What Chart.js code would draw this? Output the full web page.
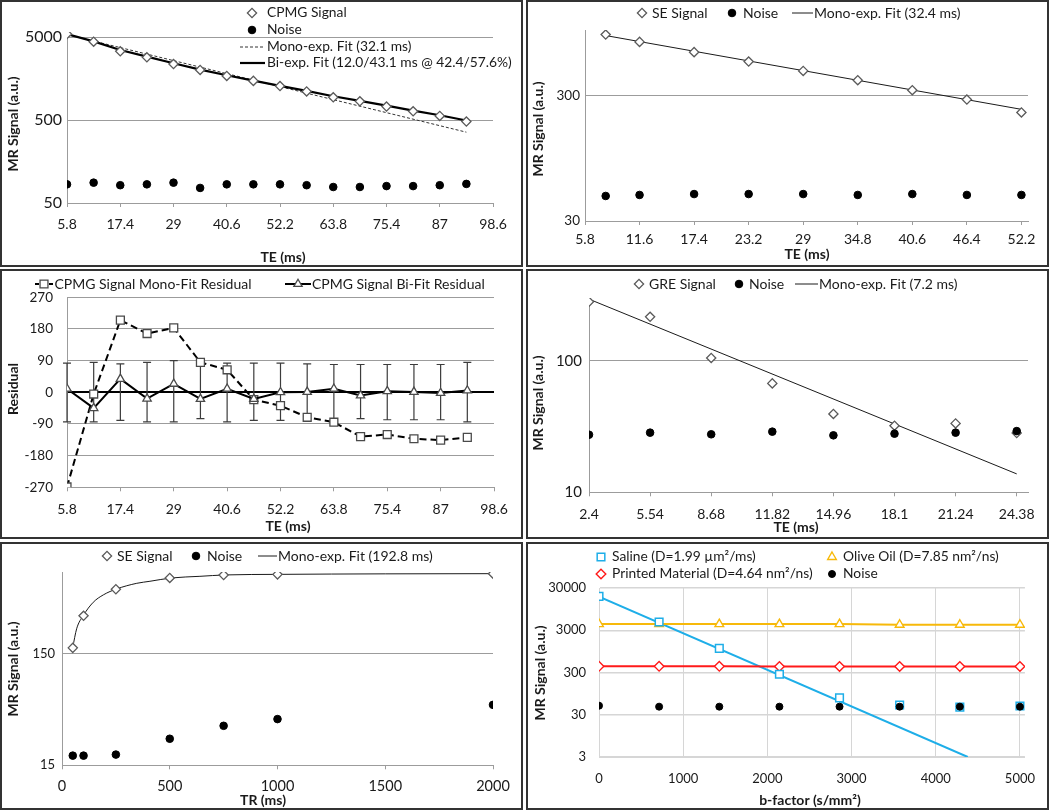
<!DOCTYPE html>
<html>
<head>
<meta charset="utf-8">
<script src="https://cdn.jsdelivr.net/npm/chart.js@4.4.1/dist/chart.umd.min.js"></script>
<style>
  html, body { margin: 0; padding: 0; background: #fff; }
  body { width: 1050px; height: 811px; position: relative; overflow: hidden; }
  .panel { position: absolute; }
  .panel canvas { position: absolute; left: 0; top: 0; }
  .panel .frame { position: absolute; left: 0; top: 0; right: 0; bottom: 0; border: 2px solid #333; box-sizing: border-box; pointer-events: none; }
</style>
</head>
<body>
<div class="panel" style="left:0;top:0;width:523px;height:267px"><canvas id="c1" width="523" height="267"></canvas><div class="frame"></div></div>
<div class="panel" style="left:526px;top:0;width:523px;height:267px"><canvas id="c2" width="523" height="267"></canvas><div class="frame"></div></div>
<div class="panel" style="left:0;top:269px;width:523px;height:270px"><canvas id="c3" width="523" height="270"></canvas><div class="frame"></div></div>
<div class="panel" style="left:526px;top:269px;width:523px;height:270px"><canvas id="c4" width="523" height="270"></canvas><div class="frame"></div></div>
<div class="panel" style="left:0;top:542px;width:523px;height:268px"><canvas id="c5" width="523" height="268"></canvas><div class="frame"></div></div>
<div class="panel" style="left:526px;top:542px;width:523px;height:268px"><canvas id="c6" width="523" height="268"></canvas><div class="frame"></div></div>
<script>
// ---- data ----
// (1) CPMG decay
const te1 = [5.8, 11.6, 17.4, 23.2, 29, 34.8, 40.6, 46.4, 52.2, 58, 63.8, 69.6, 75.4, 81.2, 87, 92.8];
const teTicks1 = [5.8, 17.4, 29, 40.6, 52.2, 63.8, 75.4, 87, 98.6];
const cpmgSignal = [5480, 4430, 3390, 2870, 2380, 2020, 1710, 1490, 1290, 1110, 945, 845, 730, 640, 563, 481];
const cpmgNoise = [84, 88, 82, 84, 88, 76, 84, 84, 84, 82, 78, 78, 80, 80, 82, 85];
const monoFitTe1 = [5.8, 92.8];
const monoFit1 = [5400, 358];
const biFit1 = [5480, 4475, 3520, 2925, 2430, 2040, 1742, 1502, 1297, 1130, 973, 855, 750, 652, 573, 495];
const yTicks1 = [50, 500, 5000];

// (2) SE decay
const te2 = [8, 11.6, 17.4, 23.2, 29, 34.8, 40.6, 46.4, 52.2];
const teTicks2 = [5.8, 11.6, 17.4, 23.2, 29, 34.8, 40.6, 46.4, 52.2];
const seSignal2 = [920, 804, 666, 560, 472, 398, 331, 279, 220];
const seNoise2 = [47.5, 48.4, 49.2, 49.2, 49.2, 48.4, 49.2, 48.4, 48.4];
const fitTe2 = [8, 52.2];
const fit2 = [903, 233];
const yTicks2 = [30, 300];

// (3) residuals
const monoResidual = [-269, -5, 205, 167, 183, 85, 64, -21, -38, -71, -85, -126, -120, -132, -136, -128];
const biResidual = [10, -45, 38, -18, 24, -19, 10, -19, 0, 1, 10, -9, 3, 1, -2, 5];
const biErrHi = [83, 85, 81, 85, 90, 83, 83, 83, 83, 81, 79, 79, 79, 79, 79, 85];
const biErrLo = [-84, -84, -80, -84, -84, -75, -84, -80, -80, -80, -78, -75, -78, -78, -78, -84];
const yTicks3 = [-270, -180, -90, 0, 90, 180, 270];

// (4) GRE decay
const te4 = [2.4, 5.54, 8.68, 11.82, 14.96, 18.1, 21.24, 24.38];
const greSignal = [281, 216, 105, 67.3, 39.4, 32.1, 33.4, 28.2];
const greNoise = [27.4, 28.4, 27.6, 28.9, 27.1, 27.9, 28.4, 29.2];
const fitTe4 = [2.4, 24.38];
const fit4 = [294, 13.8];
const yTicks4 = [10, 100];

// (5) SE recovery
const tr5 = [50, 100, 250, 500, 750, 1000, 2000];
const trTicks5 = [0, 500, 1000, 1500, 2000];
const seSignal5 = [168, 325, 561, 708, 752, 762, 773];
const seNoise5 = [18.3, 18.3, 18.7, 25.9, 33.8, 38.8, 52.0];
const fitTr5 = [50, 68, 99, 145, 192, 254, 347, 408, 509, 640, 756, 1000, 1250, 1500, 2000];
const fit5 = [170, 249, 327, 429, 500, 565, 634, 661, 708, 732, 753, 762, 767, 770, 773];
const yTicks5 = [15, 150];

// (6) diffusion
const bVals = [0, 714, 1429, 2143, 2857, 3571, 4286, 5000];
const bTicks = [0, 1000, 2000, 3000, 4000, 5000];
const saline = [19000, 4700, 1120, 272, 75, 51, 45.6, 48.3];
const oliveOil = [4200, 4220, 4200, 4200, 4200, 4050, 4050, 4050];
const printed = [420, 420, 420, 415, 415, 415, 415, 415];
const noise6 = [49.2, 46.6, 46.6, 46.6, 46.6, 46.6, 46.6, 46.6];
const salineFitB = [0, 4380];
const salineFit = [18600, 3];
const yTicks6 = [3, 30, 300, 3000, 30000];

// ---- styling ----
const FONT = "Lato, 'Open Sans', sans-serif";
const INK = "#1a1a1a";
const GRID = "#9c9c9c";
const LIGHT = "#d6d6d6";
const BLUE = "#1eaee8";
const ORANGE = "#f7b90a";
const RED = "#ff1a1a";

const DIAMOND = { style: "rectRot", r: 4.6, fill: "#fff", stroke: "#5a5a5a", lw: 1.3 };
const DOT = { style: "circle", r: 3.8, fill: "#000", stroke: "#000", lw: 1 };
const SQUARE = { style: "rect", r: 5.6, fill: "#fff", stroke: "#4a4a4a", lw: 1.3 };
const TRI = { style: "triangle", r: 4.8, fill: "#fff", stroke: "#4a4a4a", lw: 1.3 };
const SALINE_M = { style: "rect", r: 5.4, fill: "#fff", stroke: BLUE, lw: 1.5 };
const OLIVE_M = { style: "triangle", r: 5, fill: "#fff", stroke: ORANGE, lw: 1.4 };
const PRINT_M = { style: "rectRot", r: 4.8, fill: "#fff", stroke: RED, lw: 1.4 };
const DOT6 = { style: "circle", r: 3.5, fill: "#000", stroke: "#000", lw: 1 };

function pts(xs, ys) {
  return xs.map((x, i) => ({ x: x, y: ys[i] }));
}

function marks(m) {
  return {
    pointStyle: m.style,
    pointRadius: m.r,
    pointBackgroundColor: m.fill,
    pointBorderColor: m.stroke,
    pointBorderWidth: m.lw,
  };
}

function scatterSet(xs, ys, m) {
  return Object.assign({ data: pts(xs, ys), showLine: false }, marks(m));
}

function lineSet(xs, ys, color, width, dash, extra) {
  return Object.assign(
    { data: pts(xs, ys), showLine: true, pointRadius: 0, borderColor: color, borderWidth: width, borderDash: dash || [] },
    extra || {}
  );
}

function drawMarker(ctx, m, x, y) {
  const r = m.r;
  ctx.save();
  ctx.fillStyle = m.fill;
  ctx.strokeStyle = m.stroke;
  ctx.lineWidth = m.lw;
  ctx.setLineDash([]);
  ctx.beginPath();
  if (m.style === "circle") {
    ctx.arc(x, y, r, 0, Math.PI * 2);
  } else if (m.style === "rectRot") {
    ctx.moveTo(x - r, y);
    ctx.lineTo(x, y - r);
    ctx.lineTo(x + r, y);
    ctx.lineTo(x, y + r);
    ctx.closePath();
  } else if (m.style === "rect") {
    const s = r * Math.SQRT1_2;
    ctx.rect(x - s, y - s, 2 * s, 2 * s);
  } else if (m.style === "triangle") {
    ctx.moveTo(x, y - r);
    ctx.lineTo(x + 0.866 * r, y + 0.5 * r);
    ctx.lineTo(x - 0.866 * r, y + 0.5 * r);
    ctx.closePath();
  }
  ctx.fill();
  ctx.stroke();
  ctx.restore();
}

function drawLegendItem(ctx, item, size) {
  ctx.save();
  if (item.line) {
    ctx.strokeStyle = item.line.color;
    ctx.lineWidth = item.line.width;
    ctx.setLineDash(item.line.dash || []);
    ctx.beginPath();
    ctx.moveTo(item.line.x1, item.y);
    ctx.lineTo(item.line.x2, item.y);
    ctx.stroke();
  }
  if (item.point) drawMarker(ctx, item.point, item.px, item.y);
  ctx.fillStyle = INK;
  ctx.font = `${size}px ${FONT}`;
  ctx.textAlign = "left";
  ctx.textBaseline = "middle";
  ctx.fillText(item.text, item.tx, item.y);
  ctx.restore();
}

function decor(spec) {
  return {
    id: "decor",
    beforeDatasetsDraw(chart) {
      if (spec.under) spec.under(chart);
    },
    afterDraw(chart) {
      const ctx = chart.ctx;
      ctx.save();
      ctx.fillStyle = INK;
      ctx.font = `bold 14px ${FONT}`;
      ctx.textAlign = "center";
      ctx.textBaseline = "middle";
      ctx.fillText(spec.xTitle[0], spec.xTitle[1], spec.xTitle[2]);
      ctx.translate(spec.yTitle[1], spec.yTitle[2]);
      ctx.rotate(-Math.PI / 2);
      ctx.fillText(spec.yTitle[0], 0, 0);
      ctx.restore();
      spec.legend.forEach((item) => drawLegendItem(ctx, item, spec.legendSize || 14));
    },
  };
}

function makeChart(id, o) {
  const canvas = document.getElementById(id);
  const W = canvas.width;
  const H = canvas.height;
  const [left, top, right, bottom] = o.area;
  const xTick = o.x.tickLen === undefined ? 4 : o.x.tickLen;
  const xFont = o.x.font || 14;
  const yFont = o.y.font || 13.5;
  return new Chart(canvas, {
    type: "scatter",
    data: { datasets: o.datasets },
    options: {
      responsive: false,
      animation: false,
      events: [],
      layout: { autoPadding: false, padding: { left: 0, top: top, right: W - right, bottom: 0 } },
      plugins: { legend: { display: false }, tooltip: { enabled: false } },
      scales: {
        x: {
          type: "linear",
          min: o.x.min,
          max: o.x.max,
          afterBuildTicks: (s) => {
            s.ticks = o.x.ticks.map((v) => ({ value: v }));
          },
          afterFit: (s) => {
            s.height = H - bottom;
          },
          grid: {
            drawOnChartArea: !!o.x.gridArea,
            color: o.x.gridColor || GRID,
            drawTicks: xTick > 0,
            tickLength: xTick,
            tickColor: GRID,
          },
          border: { color: o.x.border || GRID },
          ticks: {
            autoSkip: false,
            maxRotation: 0,
            color: INK,
            font: { family: FONT, size: xFont },
            padding: o.x.labelY - bottom - xTick - 0.6 * xFont + 2.5,
            callback: (v) => String(v),
          },
        },
        y: {
          type: o.y.type || "linear",
          min: o.y.min,
          max: o.y.max,
          afterBuildTicks: (s) => {
            s.ticks = o.y.ticks.map((v) => ({ value: v }));
          },
          afterFit: (s) => {
            s.width = left;
          },
          grid: {
            color: o.y.gridColor || GRID,
            lineWidth: o.y.gridWidth || 1,
            drawTicks: false,
          },
          border: { color: o.y.border || GRID },
          ticks: {
            autoSkip: false,
            color: INK,
            font: { family: FONT, size: yFont },
            padding: o.y.labelPad,
            callback: (v) => String(v),
          },
        },
      },
    },
    plugins: [decor(o.decor)],
  });
}

// (1)
makeChart("c1", {
  area: [67, 32, 493, 203],
  x: { min: 5.8, max: 98.6, ticks: teTicks1, labelY: 222 },
  y: { type: "logarithmic", min: 50, max: 5800, ticks: yTicks1, labelPad: 5, font: 16 },
  datasets: [
    scatterSet(te1, cpmgSignal, DIAMOND),
    scatterSet(te1, cpmgNoise, DOT),
    lineSet(te1, biFit1, "#000", 2.2),
    lineSet(monoFitTe1, monoFit1, "#333", 1, [3, 2]),
  ],
  decor: {
    legendSize: 13.8,
    xTitle: ["TE (ms)", 283, 257],
    yTitle: ["MR Signal (a.u.)", 13, 124],
    legend: [
      { y: 13, px: 252, point: DIAMOND, tx: 267, text: "CPMG Signal" },
      { y: 30, px: 252, point: DOT, tx: 267, text: "Noise" },
      { y: 47, line: { x1: 240, x2: 265, color: "#333", width: 1, dash: [3, 2] }, tx: 267, text: "Mono-exp. Fit (32.1 ms)" },
      { y: 63, line: { x1: 240, x2: 265, color: "#000", width: 2.2 }, tx: 267, text: "Bi-exp. Fit (12.0/43.1 ms @ 42.4/57.6%)" },
    ],
  },
});

// (2)
makeChart("c2", {
  area: [59, 30, 502, 221],
  x: { min: 5.8, max: 52.9, ticks: teTicks2, labelY: 237 },
  y: { type: "logarithmic", min: 30, max: 1000, ticks: yTicks2, labelPad: 5 },
  datasets: [
    scatterSet(te2, seSignal2, DIAMOND),
    scatterSet(te2, seNoise2, DOT),
    lineSet(fitTe2, fit2, "#1a1a1a", 1),
  ],
  decor: {
    xTitle: ["TE (ms)", 281, 254],
    yTitle: ["MR Signal (a.u.)", 12, 129],
    legend: [
      { y: 13, px: 116, point: DIAMOND, tx: 126, text: "SE Signal" },
      { y: 13, px: 206, point: DOT, tx: 217, text: "Noise" },
      { y: 13, line: { x1: 266, x2: 287, color: "#1a1a1a", width: 1 }, tx: 288, text: "Mono-exp. Fit (32.4 ms)" },
    ],
  },
});

// (3)
makeChart("c3", {
  area: [67, 28.3, 494, 218.3],
  x: { min: 5.8, max: 98.6, ticks: teTicks1, labelY: 238 },
  y: {
    min: -270,
    max: 270,
    ticks: yTicks3,
    labelPad: 14,
    gridColor: (c) => (c.tick && c.tick.value === 0 ? "#000" : GRID),
    gridWidth: (c) => (c.tick && c.tick.value === 0 ? 2 : 1),
  },
  datasets: [
    Object.assign(lineSet(te1, biResidual, "#000", 2), marks(TRI)),
    Object.assign(lineSet(te1, monoResidual, "#000", 2, [7, 4]), marks(SQUARE)),
  ],
  decor: {
    xTitle: ["TE (ms)", 288, 257],
    yTitle: ["Residual", 13, 120],
    under: (chart) => {
      const ctx = chart.ctx;
      const xs = chart.scales.x;
      const ys = chart.scales.y;
      ctx.save();
      ctx.strokeStyle = "#3c3c3c";
      ctx.lineWidth = 1.2;
      te1.forEach((t, i) => {
        const x = xs.getPixelForValue(t);
        const y1 = ys.getPixelForValue(biErrHi[i]);
        const y2 = ys.getPixelForValue(biErrLo[i]);
        ctx.beginPath();
        ctx.moveTo(x, y1);
        ctx.lineTo(x, y2);
        ctx.moveTo(x - 4, y1);
        ctx.lineTo(x + 4, y1);
        ctx.moveTo(x - 4, y2);
        ctx.lineTo(x + 4, y2);
        ctx.stroke();
      });
      ctx.restore();
    },
    legend: [
      { y: 15, line: { x1: 35, x2: 53, color: "#000", width: 2, dash: [4, 3] }, px: 44, point: SQUARE, tx: 54.5, text: "CPMG Signal Mono-Fit Residual" },
      { y: 15, line: { x1: 285, x2: 311, color: "#000", width: 2 }, px: 298, point: TRI, tx: 312, text: "CPMG Signal Bi-Fit Residual" },
    ],
  },
});

// (4)
makeChart("c4", {
  area: [63, 29, 502, 223.3],
  x: { min: 2.4, max: 24.96, ticks: te4, labelY: 242.5 },
  y: { type: "logarithmic", min: 10, max: 300, ticks: yTicks4, labelPad: 7, font: 15 },
  datasets: [
    scatterSet(te4, greNoise, DOT),
    scatterSet(te4, greSignal, DIAMOND),
    lineSet(fitTe4, fit4, "#1a1a1a", 1),
  ],
  decor: {
    xTitle: ["TE (ms)", 270, 258.5],
    yTitle: ["MR Signal (a.u.)", 12, 134],
    legend: [
      { y: 15, px: 113, point: DIAMOND, tx: 123, text: "GRE Signal" },
      { y: 15, px: 213, point: DOT, tx: 223, text: "Noise" },
      { y: 15, line: { x1: 269, x2: 292, color: "#1a1a1a", width: 1 }, tx: 293, text: "Mono-exp. Fit (7.2 ms)" },
    ],
  },
});

// (5)
makeChart("c5", {
  area: [62, 30, 493, 223.3],
  x: { min: 0, max: 2000, ticks: trTicks5, labelY: 242, font: 14.5 },
  y: { type: "logarithmic", min: 15, max: 800, ticks: yTicks5, labelPad: 7, font: 13 },
  datasets: [
    scatterSet(tr5, seSignal5, DIAMOND),
    scatterSet(tr5, seNoise5, DOT),
    lineSet(fitTr5, fit5, "#1a1a1a", 1, [], { cubicInterpolationMode: "monotone" }),
  ],
  decor: {
    xTitle: ["TR (ms)", 263, 258],
    yTitle: ["MR Signal (a.u.)", 13, 127],
    legend: [
      { y: 14, px: 107, point: DIAMOND, tx: 117, text: "SE Signal" },
      { y: 14, px: 196, point: DOT, tx: 207, text: "Noise" },
      { y: 14, line: { x1: 258, x2: 277, color: "#1a1a1a", width: 1 }, tx: 278, text: "Mono-exp. Fit (192.8 ms)" },
    ],
  },
});

// (6)
makeChart("c6", {
  area: [73, 46, 500, 215],
  x: { min: 0, max: 5059, ticks: bTicks, labelY: 234, tickLen: 0, gridArea: true, gridColor: LIGHT, border: LIGHT, font: 13 },
  y: { type: "logarithmic", min: 3, max: 30000, ticks: yTicks6, labelPad: 13, gridColor: LIGHT, gridWidth: 1.5, border: LIGHT, font: 13 },
  datasets: [
    scatterSet(bVals, noise6, DOT6),
    scatterSet(bVals, saline, SALINE_M),
    Object.assign(lineSet(bVals, oliveOil, ORANGE, 2), marks(OLIVE_M)),
    Object.assign(lineSet(bVals, printed, RED, 2), marks(PRINT_M)),
    lineSet(salineFitB, salineFit, BLUE, 2),
  ],
  decor: {
    legendSize: 13.8,
    xTitle: ["b-factor (s/mm²)", 284, 258],
    yTitle: ["MR Signal (a.u.)", 14, 131],
    legend: [
      { y: 15, px: 75, point: SALINE_M, tx: 86, text: "Saline (D=1.99 µm²/ms)" },
      { y: 15, px: 306, point: OLIVE_M, tx: 317, text: "Olive Oil (D=7.85 nm²/ns)" },
      { y: 32, px: 75, point: PRINT_M, tx: 86, text: "Printed Material (D=4.64 nm²/ns)" },
      { y: 32, px: 306, point: DOT6, tx: 317, text: "Noise" },
    ],
  },
});
</script>
</body>
</html>
